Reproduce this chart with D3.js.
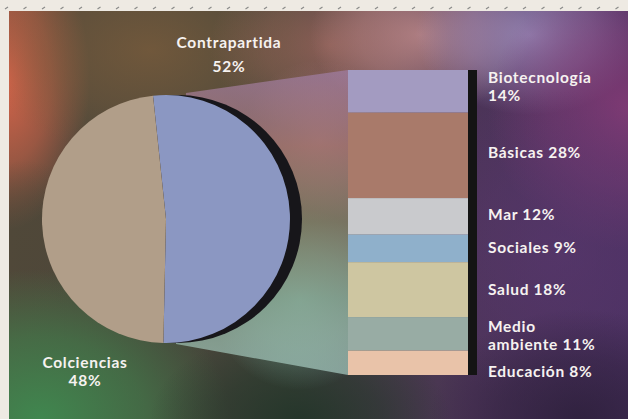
<!DOCTYPE html>
<html>
<head>
<meta charset="utf-8">
<script src="https://cdn.jsdelivr.net/npm/d3@7"></script>
<style>
  html, body { margin: 0; padding: 0; background: #eeeae3; }
  svg { display: block; }
  .lbl { font-family: Lato, "Open Sans", sans-serif; font-weight: 700; fill: #f6f2f0; font-size: 15.5px; letter-spacing: 0.7px; }
</style>
</head>
<body>
<svg id="chart" width="628" height="419"></svg>
<script>
    // pie: Contrapartida (blue, right) vs Colciencias (tan, left)
    var pieLabels = ["Contrapartida", "Colciencias"],
        pieValues = [52, 48];

    // breakdown of Contrapartida, top to bottom
    var barLabels = ["Biotecnología", "Básicas", "Mar", "Sociales", "Salud", "Medio ambiente", "Educación"],
        barValues = [14, 28, 12, 9, 18, 11, 8];

    var pieColors = ["#8b97c2", "#b19e89"],
        barColors = ["#a39bc1", "#a97a6a", "#c9cacd", "#8fb0cb", "#cec6a1", "#98aca4", "#e9c3a9"];

    var W = 628, H = 419;
    var svg = d3.select("#chart");
    var defs = svg.append("defs");

    // --- nebula background ---
    var base = defs.append("linearGradient").attr("id", "bgBase");
    base.append("stop").attr("offset", "0%").attr("stop-color", "#50483a");
    base.append("stop").attr("offset", "45%").attr("stop-color", "#42443a");
    base.append("stop").attr("offset", "75%").attr("stop-color", "#4c3458");
    base.append("stop").attr("offset", "100%").attr("stop-color", "#4a3060");

    // cx, cy, rx, ry, colour, opacity
    var blobs = [
        [5, 80, 85, 150, "#d6644a", 1],
        [150, 50, 170, 110, "#7a5c3c", 0.8],
        [330, 45, 120, 90, "#a86a5e", 0.7],
        [420, 35, 110, 80, "#c89090", 0.75],
        [530, 35, 115, 80, "#a090c0", 0.8],
        [628, 110, 140, 140, "#8a3c78", 0.8],
        [560, 250, 160, 160, "#5a3870", 0.6],
        [580, 419, 150, 110, "#2a1e38", 0.8],
        [25, 240, 70, 80, "#504838", 0.6],
        [40, 419, 190, 150, "#3f8a50", 0.95],
        [300, 419, 150, 90, "#203428", 0.85],
        [300, 300, 90, 90, "#80b4a8", 0.6],
        [320, 140, 80, 80, "#b27a78", 0.5]
    ];

    svg.append("rect").attr("x", 9).attr("y", 11).attr("width", W - 9).attr("height", H - 11)
        .attr("fill", "url(#bgBase)");

    blobs.forEach(function (b, i) {
        var g = defs.append("radialGradient").attr("id", "blob" + i);
        g.append("stop").attr("offset", "0%").attr("stop-color", b[4]).attr("stop-opacity", b[5]);
        g.append("stop").attr("offset", "55%").attr("stop-color", b[4]).attr("stop-opacity", b[5] * 0.55);
        g.append("stop").attr("offset", "100%").attr("stop-color", b[4]).attr("stop-opacity", 0);
    });

    var bg = svg.append("g").attr("clip-path", "url(#bgClip)");
    defs.append("clipPath").attr("id", "bgClip").append("rect")
        .attr("x", 9).attr("y", 11).attr("width", W - 9).attr("height", H - 11);
    bg.selectAll("ellipse").data(blobs).join("ellipse")
        .attr("cx", function (d) { return d[0]; })
        .attr("cy", function (d) { return d[1]; })
        .attr("rx", function (d) { return d[2]; })
        .attr("ry", function (d) { return d[3]; })
        .attr("fill", function (d, i) { return "url(#blob" + i + ")"; });

    // little register dashes along the top margin
    svg.append("g").selectAll("line").data(d3.range(5, W, 18.5)).join("line")
        .attr("x1", function (d) { return d; }).attr("x2", function (d) { return d + 3; })
        .attr("y1", 9).attr("y2", 7)
        .attr("stroke", "#8a8a88").attr("stroke-width", 1.2);

    // --- geometry ---
    var cx = 166, cy = 219, r = 124;
    var barX = 348, barW = 120, barTop = 70, barBottom = 375;

    var y = d3.scaleLinear().domain([0, d3.sum(barValues)]).range([barTop, barBottom]);
    var stack = d3.cumsum(barValues);
    var segs = barValues.map(function (v, i) {
        return { label: barLabels[i], value: v, y0: stack[i] - v, y1: stack[i] };
    });

    // projection band between pie and bar
    var band = defs.append("linearGradient").attr("id", "band")
        .attr("x1", 0).attr("y1", 0).attr("x2", 0).attr("y2", 1);
    [["0%", "#a07ea6"], ["25%", "#b07c78"], ["50%", "#8e8a6e"], ["75%", "#8fb09a"], ["100%", "#a9cdc4"]]
        .forEach(function (s) {
            band.append("stop").attr("offset", s[0]).attr("stop-color", s[1]).attr("stop-opacity", 0.7);
        });
    svg.append("path")
        .attr("d", "M" + (cx + 20) + "," + (cy - r - 2) + "L" + barX + "," + y(0) +
                   "L" + barX + "," + y(d3.sum(barValues)) + "L" + (cx + 10) + "," + (cy + r + 1) + "Z")
        .attr("fill", "url(#band)");

    // --- pie ---
    var startA = -6 * Math.PI / 180;
    var pie = d3.pie().sort(null).startAngle(startA).endAngle(startA + 2 * Math.PI);
    var arc = d3.arc().innerRadius(0).outerRadius(r);
    var arcs = pie(pieValues);

    svg.append("circle").attr("cx", cx + 12).attr("cy", cy).attr("r", r)
        .attr("fill", "#17161a");

    svg.append("g").attr("transform", "translate(" + cx + "," + cy + ")")
        .selectAll("path").data(arcs).join("path")
        .attr("d", arc)
        .attr("fill", function (d, i) { return pieColors[i]; });

    // --- bar of pie ---
    svg.append("g").selectAll("rect").data(segs).join("rect")
        .attr("x", barX)
        .attr("y", function (d) { return y(d.y0); })
        .attr("width", barW)
        .attr("height", function (d) { return y(d.y1) - y(d.y0); })
        .attr("fill", function (d, i) { return barColors[i]; });

    svg.append("rect").attr("x", barX + barW).attr("y", y(0))
        .attr("width", 9).attr("height", y(d3.sum(barValues)) - y(0))
        .attr("fill", "#141414");

    // --- labels ---
    function label(lines, x, yy, anchor, gap) {
        var t = svg.append("text").attr("class", "lbl").attr("text-anchor", anchor || "start");
        lines.forEach(function (s, i) {
            t.append("tspan").attr("x", x).attr("y", yy + i * (gap || 17.5)).text(s);
        });
    }

    label([pieLabels[0], pieValues[0] + "%"], 229, 48, "middle", 24);
    label([pieLabels[1], pieValues[1] + "%"], 85, 368, "middle");

    var barLines = [
        [barLabels[0], barValues[0] + "%"],
        [barLabels[1] + " " + barValues[1] + "%"],
        [barLabels[2] + " " + barValues[2] + "%"],
        [barLabels[3] + " " + barValues[3] + "%"],
        [barLabels[4] + " " + barValues[4] + "%"],
        ["Medio", "ambiente " + barValues[5] + "%"],
        [barLabels[6] + " " + barValues[6] + "%"]
    ];
    var labelY = [83, 158, 220, 253, 295, 332, 377];
    barLines.forEach(function (lines, i) {
        label(lines, 488, labelY[i]);
    });
</script>
</body>
</html>
